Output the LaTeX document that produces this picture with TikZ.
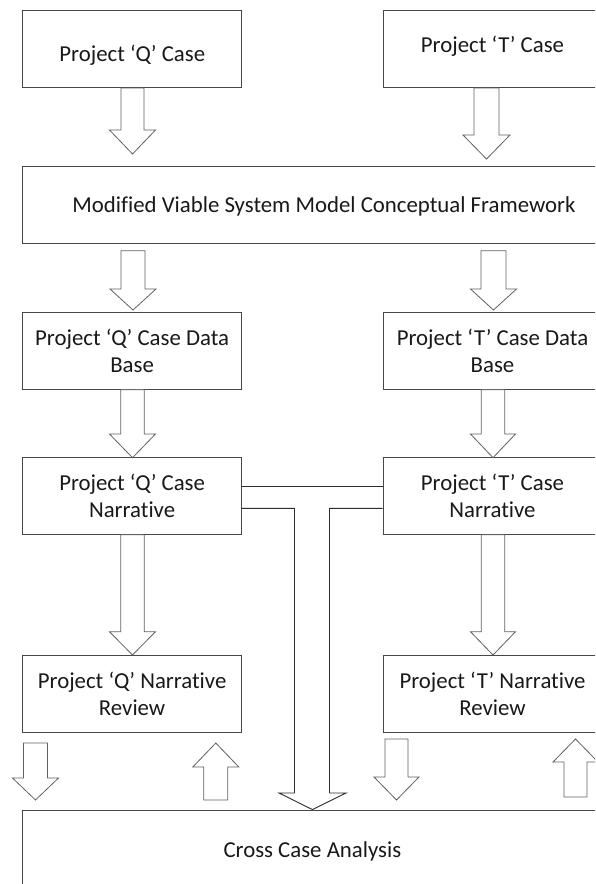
\documentclass[tikz,border=0pt]{standalone}
\usepackage{fontspec}
\setmainfont[Ligatures={NoCommon,NoRare}]{Carlito}
\usetikzlibrary{calc}
\tikzset{
  box/.style={draw=black!72, line width=0.9pt, rectangle, minimum width=219pt, minimum height=77pt,
    inner sep=0pt, align=center, font=\fontsize{22.8}{27}\selectfont, text=black!90},
  lbl/.style={font=\fontsize{22.8}{27}\selectfont, text=black!90, align=center},
  blk/.style={draw=black!62, line width=0.8pt, fill=white, line join=miter},
  tline/.style={draw=black!82, line width=0.9pt, fill=white, line join=miter}
}
% down block arrow: xc, ytop, yhead, ytip, shaft half width, head half width
\newcommand{\dnarr}[6]{%
  \draw[blk] (#1-#5,#2) -- (#1-#5,#3) -- (#1-#6,#3) -- (#1,#4) -- (#1+#6,#3) -- (#1+#5,#3) -- (#1+#5,#2) -- cycle;}
% up block arrow: xc, ytip, yhead, ybottom, shaft half width, head half width
\newcommand{\uparr}[6]{%
  \draw[blk] (#1,#2) -- (#1-#6,#3) -- (#1-#5,#3) -- (#1-#5,#4) -- (#1+#5,#4) -- (#1+#5,#3) -- (#1+#6,#3) -- cycle;}
\begin{document}
\begin{tikzpicture}[x=1pt,y=-1pt]
\useasboundingbox (0,0) rectangle (595,884);
\fill[white] (0,0) rectangle (595,884);
\clip (0,0) rectangle (595,884);

% boxes
\node[box] (qcase) at (132.25,49.3) {};
\node[box] (tcase) at (492.5,49.3) {};
\node[lbl] (qcaset) at ($(qcase)+(0,5.7)$) {Project ‘Q’ Case};
\node[lbl] (tcaset) at ($(tcase)+(0,-2.6)$) {Project ‘T’ Case};

\node[box, minimum width=580pt, minimum height=76.6pt] (frame) at (312,205) {};
\node[lbl] (framet) at ($(frame)+(12,1)$) {Modified Viable System Model Conceptual Framework};

\node[box] (qdb) at (132.1,351.2) {Project ‘Q’ Case Data\\Base};
\node[box] (tdb) at (492.5,351.2) {Project ‘T’ Case Data\\Base};

\node[box] (qnar) at (132.1,496.3) {Project ‘Q’ Case\\Narrative};
\node[box] (tnar) at (492.5,496.3) {Project ‘T’ Case\\Narrative};

\node[box] (qrev) at (132.1,693.5) {Project ‘Q’ Narrative\\Review};
\node[box] (trev) at (492.5,693.5) {Project ‘T’ Narrative\\Review};

\node[box, minimum width=579.2pt, minimum height=82pt] (cross) at (312.4,851) {Cross Case Analysis};

% block arrows
\dnarr{132.5}{88}{130}{154}{11.5}{23}
\dnarr{486.5}{88}{135}{159}{12.5}{23.5}
\dnarr{133}{250.7}{289}{310}{12}{23}
\dnarr{493.5}{250.7}{289}{310}{12.5}{23}
\dnarr{132.5}{389.7}{434}{457.7}{11.75}{23}
\dnarr{493}{389.7}{434}{457.7}{11.75}{22.5}
\dnarr{132.5}{534.8}{631.7}{655}{11.75}{23}
\dnarr{493}{534.8}{631.7}{655}{11.75}{22.5}
\dnarr{35.5}{743}{778}{800}{12}{23}
\uparr{215.8}{743}{767}{800}{12}{23}
\dnarr{396.5}{739}{777}{800}{11.5}{22.5}
\uparr{575.5}{739}{762}{797}{11.5}{22.5}

% T connector to cross case analysis
\coordinate (yA) at (0,486);
\coordinate (yB) at (0,508.3);
\draw[tline] (qnar.east |- yA) -- (tnar.west |- yA);
\draw[tline] (qnar.east |- yB) -- (294.5,508.3) -- (294.5,793) -- (279,793) -- (cross.north)
  -- (346,793) -- (329.5,793) -- (329.5,508.3) -- (tnar.west |- yB);
\end{tikzpicture}
\end{document}
